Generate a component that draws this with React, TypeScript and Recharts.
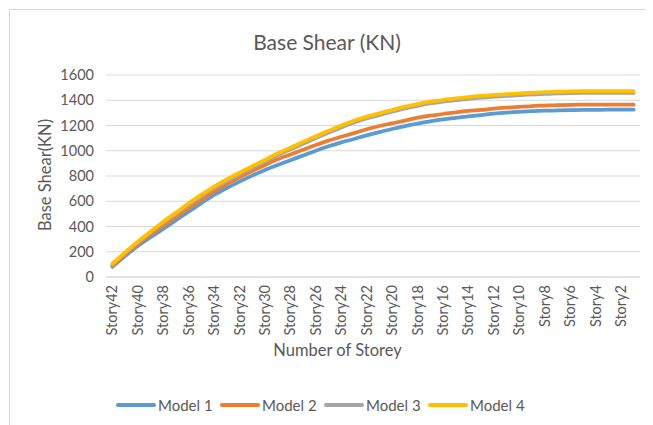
import React from 'react';
import { LineChart, Line, XAxis, YAxis, CartesianGrid, Legend } from 'recharts';

const stories = [
  'Story42', 'Story41', 'Story40', 'Story39', 'Story38', 'Story37', 'Story36', 'Story35',
  'Story34', 'Story33', 'Story32', 'Story31', 'Story30', 'Story29', 'Story28', 'Story27',
  'Story26', 'Story25', 'Story24', 'Story23', 'Story22', 'Story21', 'Story20', 'Story19',
  'Story18', 'Story17', 'Story16', 'Story15', 'Story14', 'Story13', 'Story12', 'Story11',
  'Story10', 'Story9', 'Story8', 'Story7', 'Story6', 'Story5', 'Story4', 'Story3',
  'Story2', 'Story1',
];

const model1 = [
  80, 165, 245, 315, 380, 450, 517, 585, 650, 705, 755, 803, 848, 887, 925, 962,
  1000, 1035, 1066, 1093, 1122, 1148, 1172, 1195, 1215, 1233, 1249, 1261, 1272, 1282,
  1294, 1302, 1308, 1313, 1317, 1319, 1321, 1323, 1324, 1325, 1325, 1325,
];

const model2 = [
  88, 175, 260, 335, 404, 475, 544, 612, 677, 735, 789, 840, 887, 932, 970, 1008,
  1045, 1080, 1111, 1140, 1170, 1196, 1217, 1238, 1262, 1278, 1291, 1304, 1315, 1323,
  1333, 1341, 1348, 1354, 1358, 1362, 1364, 1365, 1365, 1365, 1365, 1365,
];

const model3 = [
  98, 188, 272, 352, 430, 500, 572, 640, 704, 760, 813, 864, 914, 966, 1010, 1055,
  1100, 1143, 1185, 1223, 1255, 1282, 1309, 1335, 1356, 1375, 1388, 1401, 1411, 1421,
  1428, 1434, 1440, 1446, 1450, 1454, 1457, 1458, 1458, 1458, 1458, 1458,
];

const model4 = [
  105, 195, 280, 360, 438, 510, 584, 652, 716, 773, 826, 877, 927, 980, 1024, 1070,
  1115, 1158, 1200, 1238, 1270, 1296, 1323, 1349, 1370, 1389, 1402, 1415, 1425, 1435,
  1442, 1448, 1454, 1460, 1464, 1468, 1471, 1472, 1472, 1472, 1472, 1472,
];

const yTicks = [0, 200, 400, 600, 800, 1000, 1200, 1400, 1600];

const seriesNames = ['Model 1', 'Model 2', 'Model 3', 'Model 4'];
const seriesKeys = ['m1', 'm2', 'm3', 'm4'];
const seriesColors = ['#5B9BD5', '#ED7D31', '#A5A5A5', '#FFC000'];

const data = stories.map((s, i) => ({
  story: s,
  m1: model1[i],
  m2: model2[i],
  m3: model3[i],
  m4: model4[i],
}));

const FONT = 'Lato, "Open Sans", sans-serif';
const TEXT = '#595959';

const XTick = (props: any) => {
  const { x, y, payload } = props;
  const yy = y + 8;
  return (
    <text
      x={x}
      y={yy}
      transform={`rotate(-90 ${x} ${yy})`}
      textAnchor="end"
      dy="0.35em"
      fill={TEXT}
      fontSize={14.5}
      fontFamily={FONT}
    >
      {payload.value}
    </text>
  );
};

const YTitle = () => (
  <text
    x={37}
    y={167}
    transform="rotate(-90 37 167)"
    textAnchor="middle"
    dominantBaseline="central"
    fill={TEXT}
    fontSize={16.5}
    fontFamily={FONT}
  >
    Base Shear(KN)
  </text>
);

const XTitle = () => (
  <text
    x={329.5}
    y={342}
    textAnchor="middle"
    dominantBaseline="central"
    fill={TEXT}
    fontSize={16.5}
    fontFamily={FONT}
  >
    Number of Storey
  </text>
);

const LegendContent = (props: any) => {
  const { payload } = props;
  return (
    <div
      style={{
        height: 24,
        display: 'flex',
        justifyContent: 'center',
        alignItems: 'center',
        fontFamily: FONT,
        fontSize: 15,
        color: TEXT,
      }}
    >
      {(payload || []).map((p: any) => (
        <div key={p.value} style={{ width: 104, display: 'flex', alignItems: 'center' }}>
          <svg width={40} height={6} style={{ display: 'block' }}>
            <line x1={2} y1={3} x2={38} y2={3} stroke={p.color} strokeWidth={4} strokeLinecap="round" />
          </svg>
          <span style={{ marginLeft: 2, whiteSpace: 'nowrap' }}>{p.value}</span>
        </div>
      ))}
    </div>
  );
};

export default function App() {
  return (
    <div style={{ position: 'relative', width: 645, height: 417, overflow: 'hidden', background: '#fff' }}>
      <div
        style={{
          position: 'absolute',
          left: 1,
          top: 1,
          width: 700,
          height: 500,
          borderLeft: '1px solid #d9d9d9',
          borderTop: '1px solid #d9d9d9',
        }}
      />
      <div
        style={{
          position: 'absolute',
          left: 0,
          top: 21,
          width: 638,
          textAlign: 'center',
          fontFamily: FONT,
          fontSize: 21,
          lineHeight: '26px',
          color: TEXT,
        }}
      >
        Base Shear (KN)
      </div>
      <div style={{ position: 'absolute', left: 0, top: 0 }}>
        <LineChart
          width={645}
          height={417}
          data={data}
          margin={{ top: 67, right: 13, left: 0, bottom: 8 }}
        >
          <CartesianGrid vertical={false} stroke="#d9d9d9" strokeWidth={1} />
          <XAxis
            dataKey="story"
            interval={1}
            height={116}
            padding={{ left: 6.36, right: 6.36 }}
            tickLine={false}
            tickSize={0}
            tickMargin={0}
            axisLine={{ stroke: '#d9d9d9' }}
            tick={<XTick />}
            label={<XTitle />}
          />
          <YAxis
            width={98}
            domain={[0, 1600]}
            ticks={yTicks}
            axisLine={false}
            tickLine={false}
            tickSize={0}
            tickMargin={12}
            tick={{ fill: TEXT, fontSize: 14.5, fontFamily: FONT }}
            label={<YTitle />}
          />
          <Legend verticalAlign="bottom" content={<LegendContent />} />
          {seriesKeys.map((k, i) => (
            <Line
              key={k}
              type="monotone"
              dataKey={k}
              name={seriesNames[i]}
              stroke={seriesColors[i]}
              strokeWidth={3.75}
              strokeLinecap="round"
              strokeLinejoin="round"
              dot={false}
              activeDot={false}
              isAnimationActive={false}
            />
          ))}
        </LineChart>
      </div>
    </div>
  );
}
